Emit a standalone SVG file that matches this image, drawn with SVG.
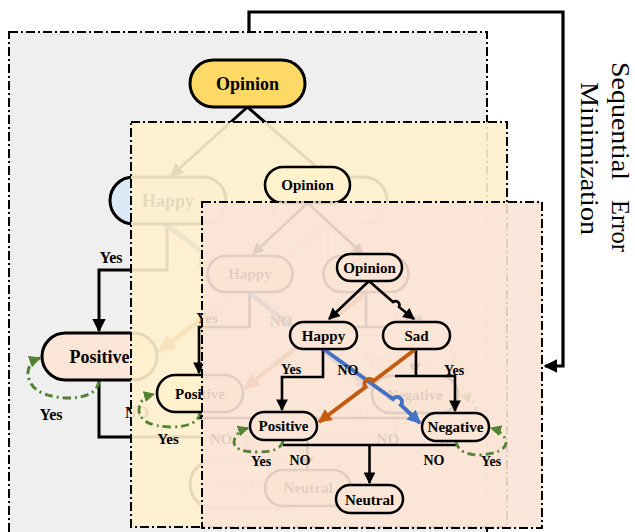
<svg xmlns="http://www.w3.org/2000/svg" width="635" height="532" viewBox="0 0 635 532">
<defs>
<style>
.frame{stroke:#000;stroke-width:2;stroke-dasharray:9 3 2 3;}
.ln{fill:none;stroke:#000;}
.blue{fill:none;stroke:#4472c4;}
.org{fill:none;stroke:#c55a11;}
.grn{fill:none;stroke:#548235;stroke-dasharray:8 4 2 4;}
.nd{stroke:#000;}
.lb{font-family:"Liberation Serif","Times New Roman",serif;font-weight:bold;text-anchor:middle;fill:#000;}
.side{font-family:"Liberation Serif","Times New Roman",serif;font-size:25px;fill:#000;}
</style>
<marker id="ab" viewBox="0 0 10 10" refX="9" refY="5" markerWidth="4.5" markerHeight="4.5" orient="auto"><path d="M0,0L10,5L0,10Z" fill="#000"/></marker>
<marker id="abig" viewBox="0 0 10 10" refX="9" refY="5" markerWidth="4.3" markerHeight="4.3" orient="auto"><path d="M0,0L10,5L0,10Z" fill="#000"/></marker>
<marker id="abl" viewBox="0 0 10 10" refX="9" refY="5" markerWidth="3.6" markerHeight="3.4" orient="auto"><path d="M0,0L10,5L0,10Z" fill="#4472c4"/></marker>
<marker id="aor" viewBox="0 0 10 10" refX="9" refY="5" markerWidth="3.6" markerHeight="3.4" orient="auto"><path d="M0,0L10,5L0,10Z" fill="#c55a11"/></marker>
<marker id="agr" viewBox="0 0 10 10" refX="9" refY="5" markerWidth="4" markerHeight="4" orient="auto"><path d="M0,0L10,5L0,10Z" fill="#548235"/></marker>
</defs>

<!-- ============ PANEL 1 ============ -->
<g id="panel1">
<rect x="9" y="32" width="478" height="520" fill="#efefef" class="frame"/>
<g id="p1-connectors" stroke-width="3">
<path class="ln" d="M247.5,107 L171,176" marker-end="url(#ab)"/>
<path class="ln" d="M247.5,107 L327,176" marker-end="url(#ab)"/>
<path class="ln" d="M167,224 V270 H99 V331" marker-end="url(#ab)"/>
<path class="ln" d="M328,224 V270 H396 V334" marker-end="url(#ab)"/>
<path class="ln" d="M99,380 V437 H396 V383"/>
<path class="ln" d="M247.5,437 V459" marker-end="url(#ab)"/>
<path class="blue" stroke-width="5" d="M165,224 L336,352" marker-end="url(#abl)"/>
<path class="org" stroke-width="5" d="M330,224 L159,351" marker-end="url(#aor)"/>
<path class="grn" d="M99,381 Q97,398 67,398 Q28,396 28,372 Q29,362 40,358" marker-end="url(#agr)"/>
<path class="grn" d="M397,384 Q399,401 429,401 Q468,399 468,375 Q467,365 456,361" marker-end="url(#agr)"/>
</g>
<g id="p1-opinion"><rect class="nd" stroke-width="3" x="190" y="60" width="115" height="47" rx="23.5" fill="#ffd966"/><text class="lb" font-size="18" x="247.5" y="89.5">Opinion</text></g>
<g id="p1-happy"><rect class="nd" stroke-width="3" x="110" y="177" width="116" height="47" rx="23.5" fill="#dde9f6"/><text class="lb" font-size="18" x="168" y="206.5">Happy</text></g>
<g id="p1-sad"><rect class="nd" stroke-width="3" x="271" y="177" width="116" height="47" rx="23.5" fill="#efefef"/><text class="lb" font-size="18" x="329" y="206.5">Sad</text></g>
<g id="p1-positive"><rect class="nd" stroke-width="3" x="42" y="333" width="115" height="47" rx="23.5" fill="#fbe5d6"/><text class="lb" font-size="18" x="99.5" y="362.5">Positive</text></g>
<g id="p1-negative"><rect class="nd" stroke-width="3" x="339" y="336" width="115" height="47" rx="23.5" fill="#efefef"/><text class="lb" font-size="18" x="396.5" y="365.5">Negative</text></g>
<g id="p1-neutral"><rect class="nd" stroke-width="3" x="190" y="461" width="115" height="47" rx="23.5" fill="#efefef"/><text class="lb" font-size="18" x="247.5" y="490.5">Neutral</text></g>
<g id="p1-labels" class="lb" font-size="16">
<text x="111" y="263">Yes</text>
<text x="210" y="266">NO</text>
<text x="392" y="263">Yes</text>
<text x="137" y="418">NO</text>
<text x="358" y="418">NO</text>
<text x="51" y="420">Yes</text>
<text x="445" y="423">Yes</text>
</g>
</g>

<!-- ============ PANEL 2 ============ -->
<g id="panel2">
<rect x="131" y="122" width="376" height="405" fill="#fff1cd" fill-opacity="0.9" class="frame"/>
<g id="p2-connectors" stroke-width="2.6">
<path class="ln" d="M307.5,203 L253,254" marker-end="url(#ab)"/>
<path class="ln" d="M307.5,203 L363,254" marker-end="url(#ab)"/>
<path class="ln" d="M249.5,292 V327 H199 V373" marker-end="url(#ab)"/>
<path class="ln" d="M339,327 H415 V374" marker-end="url(#ab)"/>
<path class="ln" d="M366,292 V327"/>
<path class="ln" d="M200,412 V418 H415 V413"/>
<path class="ln" d="M307.5,418 V468" marker-end="url(#ab)"/>
<path class="blue" stroke-width="4.5" d="M248,292 L370,388" marker-end="url(#abl)"/>
<path class="org" stroke-width="4.5" d="M367,292 L245,388" marker-end="url(#aor)"/>
<path class="grn" stroke-width="2.8" d="M200,412 Q199,427 170,427 Q140,426 139,410 Q139,398 154,394" marker-end="url(#agr)"/>
<path class="grn" stroke-width="2.8" d="M415,413 Q416,428 445,428 Q475,427 476,411 Q476,399 461,395" marker-end="url(#agr)"/>
</g>
<g id="p2-opinion"><rect class="nd" stroke-width="2.6" x="265" y="167" width="85" height="36" rx="18" fill="#fff2cc"/><text class="lb" font-size="15" x="307.5" y="190">Opinion</text></g>
<g id="p2-happy"><rect class="nd" stroke-width="2.6" x="207.5" y="256" width="85" height="36" rx="18" fill="#fff2cc"/><text class="lb" font-size="15" x="250" y="279">Happy</text></g>
<g id="p2-sad"><rect class="nd" stroke-width="2.6" x="323.5" y="256" width="85" height="36" rx="18" fill="#fff2cc"/><text class="lb" font-size="15" x="366" y="279">Sad</text></g>
<g id="p2-positive"><rect class="nd" stroke-width="2.6" x="157" y="375" width="86" height="37" rx="18.5" fill="#fff2cc"/><text class="lb" font-size="15" x="200" y="398.5">Positive</text></g>
<g id="p2-negative"><rect class="nd" stroke-width="2.6" x="372" y="376" width="86" height="37" rx="18.5" fill="#fff2cc"/><text class="lb" font-size="15" x="415" y="399.5">Negative</text></g>
<g id="p2-neutral"><rect class="nd" stroke-width="2.6" x="265" y="470" width="86" height="36" rx="18" fill="#fff2cc"/><text class="lb" font-size="15" x="308" y="493">Neutral</text></g>
<g id="p2-labels" class="lb" font-size="15">
<text x="207" y="323">Yes</text>
<text x="281" y="326">NO</text>
<text x="412" y="323">Yes</text>
<text x="221" y="444">NO</text>
<text x="388" y="444">NO</text>
<text x="168" y="444">Yes</text>
<text x="447" y="445">Yes</text>
</g>
</g>

<!-- ============ PANEL 3 ============ -->
<g id="panel3">
<rect x="202" y="202" width="340" height="326" fill="#fae3d6" fill-opacity="0.9" class="frame"/>
<g id="p3-connectors" stroke-width="2.6">
<path class="ln" d="M369,281 L329,319" marker-end="url(#ab)"/>
<path class="ln" d="M369,281 L393,302 A4,4 0 0 1 399,307 L414,319" marker-end="url(#ab)"/>
<path class="ln" d="M323,349 V377 H282 V410" marker-end="url(#ab)"/>
<path class="ln" d="M395,376 H455 V411" marker-end="url(#ab)"/>
<path class="ln" d="M416,349 V376"/>
<path class="ln" d="M283,445 H456"/>
<path class="ln" d="M369.5,445 V483" marker-end="url(#ab)"/>
<path class="blue" stroke-width="4" d="M322,348 L393,399 A4.5,4.5 0 0 1 401,405 L420,423" marker-end="url(#abl)"/>
<path class="org" stroke-width="4" d="M417,348 L373.5,381 A5,5 0 0 0 365.5,387 L319,422" marker-end="url(#aor)"/>
<path class="grn" stroke-width="2.8" d="M283,441 Q281,452 258,452 Q234,452 234,442 Q235,432 248,428" marker-end="url(#agr)"/>
<path class="grn" stroke-width="2.8" d="M456,441 Q458,455 480,455 Q505,453 506,443 Q505,432 491,428" marker-end="url(#agr)"/>
</g>
<g id="p3-opinion"><rect class="nd" stroke-width="2.5" x="337" y="254" width="65" height="27" rx="13.5" fill="#fbe5d6"/><text class="lb" font-size="15" x="369.5" y="272.5">Opinion</text></g>
<g id="p3-happy"><rect class="nd" stroke-width="2.5" x="290" y="322" width="67" height="27" rx="13.5" fill="#fbe5d6"/><text class="lb" font-size="15" x="323.5" y="340.5">Happy</text></g>
<g id="p3-sad"><rect class="nd" stroke-width="2.5" x="383" y="322" width="67" height="27" rx="13.5" fill="#fbe5d6"/><text class="lb" font-size="15" x="416.5" y="340.5">Sad</text></g>
<g id="p3-positive"><rect class="nd" stroke-width="2.5" x="250" y="412" width="67" height="28" rx="14" fill="#fbe5d6"/><text class="lb" font-size="15" x="283.5" y="431">Positive</text></g>
<g id="p3-negative"><rect class="nd" stroke-width="2.5" x="422" y="413" width="67" height="28" rx="14" fill="#fbe5d6"/><text class="lb" font-size="15" x="455.5" y="432">Negative</text></g>
<g id="p3-neutral"><rect class="nd" stroke-width="2.5" x="336" y="485" width="67" height="28" rx="14" fill="#fbe5d6"/><text class="lb" font-size="15" x="369.5" y="504.5">Neutral</text></g>
<g id="p3-labels" class="lb" font-size="14">
<text x="291" y="374">Yes</text>
<text x="348" y="375">NO</text>
<text x="454" y="375">Yes</text>
<text x="300" y="465">NO</text>
<text x="434" y="465">NO</text>
<text x="261" y="466">Yes</text>
<text x="491" y="466">Yes</text>
</g>
</g>

<!-- ============ FEEDBACK LOOP ============ -->
<g id="feedback">
<path class="ln" stroke-width="3.2" d="M249,32 V12 H563 V366 H545" marker-end="url(#abig)"/>
<g id="feedback-label" transform="translate(612,0) rotate(90)">
<text class="side" x="62" y="0" textLength="118" lengthAdjust="spacingAndGlyphs">Sequential</text>
<text class="side" x="200" y="0" textLength="52" lengthAdjust="spacingAndGlyphs">Error</text>
<text class="side" x="82" y="31" textLength="153" lengthAdjust="spacingAndGlyphs">Minimization</text>
</g>
</g>
</svg>
